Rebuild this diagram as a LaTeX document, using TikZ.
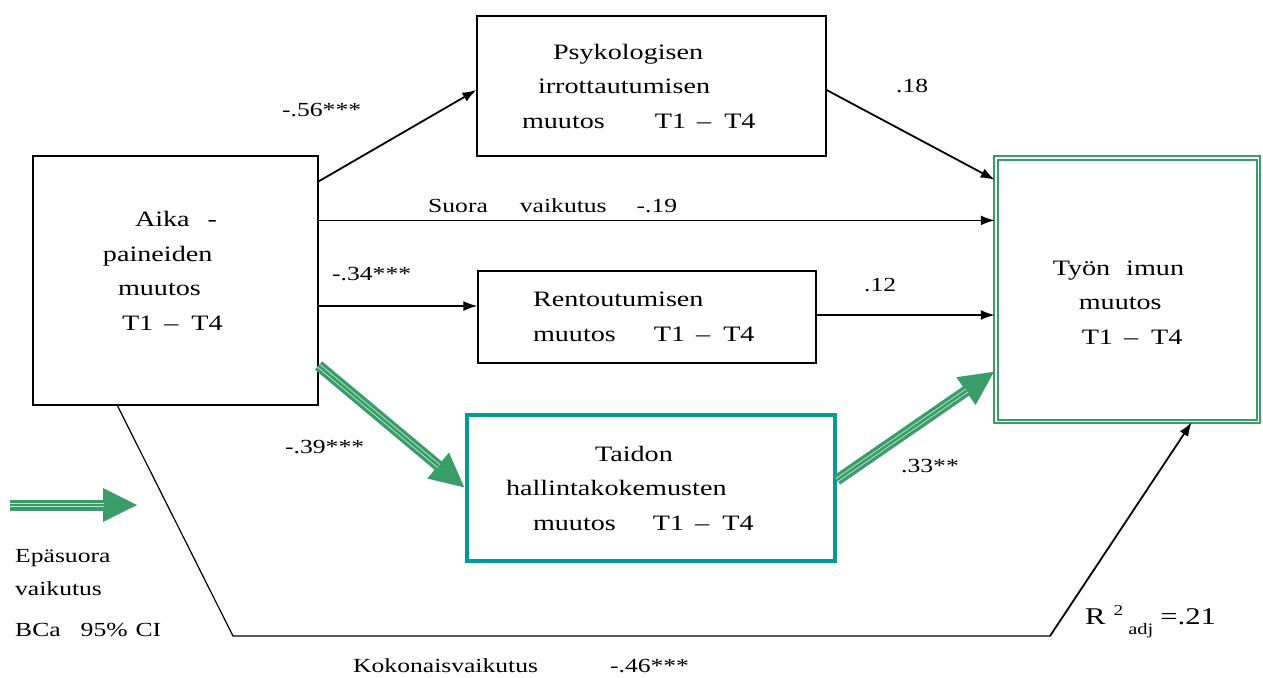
\documentclass[tikz,border=0pt]{standalone}
\usepackage{fontspec}
\setmainfont{Liberation Serif}[FakeStretch=1.28]
\usetikzlibrary{arrows.meta,calc}
\definecolor{pathgreen}{RGB}{56,157,104}
\definecolor{paleline}{RGB}{190,226,205}
\definecolor{boxteal}{RGB}{0,155,150}
\tikzset{
  box/.style={draw=black, line width=1.2pt, inner sep=0pt, align=left,
              font=\fontsize{22}{34.5}\selectfont},
  coef/.style={font=\fontsize{20}{24}\selectfont, inner sep=0pt, anchor=west},
  link/.style={line width=1.8pt, -{Latex[length=14pt,width=10pt]}},
}
% indent a line inside a box
\newcommand\ind[1]{\hspace*{#1pt}}
% "T1 - T4" with the spacing used in the boxes
\newcommand\timespan{T1\hspace{11pt}--\hspace{13pt}T4}
% invisible struts that move a box's text block down / up
\newcommand\tallfirst[1]{\rule{0pt}{#1pt}}
\newcommand\deeplast[1]{\rule[-#1pt]{0pt}{1pt}}
% thick indirect-path arrow: green shaft with two pale stripes and a large head
\newcommand\indirectarrow[2]{%
  \draw[pathgreen, line width=11pt, -{Triangle[length=35pt,width=31pt]}] #1 -- #2;
  \draw[paleline, line width=4.4pt, shorten >=34pt] #1 -- #2;
  \draw[pathgreen, line width=2.6pt, shorten >=34pt] #1 -- #2;
}
\begin{document}
\begin{tikzpicture}[x=1pt, y=-1pt]
\useasboundingbox (0,0) rectangle (1263,677);

% variables
\node[box, text width=285pt, minimum height=249pt] (aika) at (175.5,280.5)
  {\ind{102}Aika\hspace{18pt}-\\\ind{70}paineiden\\\ind{85}muutos\\\ind{89}\timespan\deeplast{19}};
\node[box, text width=349pt, minimum height=140pt] (psyk) at (651.5,86)
  {\ind{76}Psykologisen\\\ind{61}irrottautumisen\\\ind{45}muutos\hspace{50pt}\timespan};
\node[box, text width=338pt, minimum height=92pt] (rent) at (647,317)
  {\ind{55}Rentoutumisen\\\ind{55}muutos\hspace{38pt}\timespan};
\node[box, draw=boxteal, line width=4pt, text width=368pt, minimum height=146pt] (taito) at (651,488)
  {\ind{128}Taidon\\\ind{39}hallintakokemusten\\\ind{66}muutos\hspace{37pt}\timespan};
\node[box, draw=pathgreen, line width=2pt, double=white, double distance=1.5pt,
      text width=262.5pt, minimum height=263.5pt] (tyo) at (1127,289.5)
  {\tallfirst{40}\ind{57}Työn\hspace{16pt}imun\\\ind{83}muutos\\\ind{86}\timespan};

% direct paths
\coordinate (suora) at ([yshift=-65pt]aika.north east);
\coordinate (rin) at ([yshift=-25.5pt]aika.east);
\coordinate (rout) at ([yshift=2pt]rent.east);
\draw[link] ([yshift=-26pt]aika.north east) -- ([yshift=-4pt]psyk.west);
\draw[link] ([yshift=-4pt]psyk.east) -- ([yshift=-23pt]tyo.north west);
\draw[link] (suora) -- (suora -| tyo.west);
\draw[link] (rin) -- (rin -| rent.west);
\draw[link] (rout) -- (rout -| tyo.west);

% indirect paths
\indirectarrow{([yshift=40pt]aika.south east)}{(taito.west)}
\indirectarrow{([yshift=8pt]taito.east)}{([yshift=51pt]tyo.south west)}

% total effect
\coordinate (tk1) at (233,636);
\coordinate (tk2) at (1050,636);
\draw[line width=1.2pt] ([xshift=85pt]aika.south west) -- (tk1) -- (tk2);
\draw[link] (tk2) -- ([xshift=197pt]tyo.south west);

% coefficients
\node[coef] (c1) at (282,110) {-.56***};
\node[coef] (c2) at (896,86) {.18};
\node[coef] (c3) at (428,206) {Suora\hspace{32pt}vaikutus\hspace{30pt}-.19};
\node[coef] (c4) at (332,274) {-.34***};
\node[coef] (c5) at (864,285) {.12};
\node[coef] (c6) at (285,447) {-.39***};
\node[coef] (c7) at (901,466) {.33**};
\node[coef] (c8) at (353,666) {Kokonaisvaikutus\hspace{72pt}-.46***};
\node[coef, font=\fontsize{24}{28}\selectfont] (r2) at (1085,622)
  {R\hspace{8pt}\raisebox{9pt}{\fontsize{15}{15}\selectfont 2}\hspace{5pt}\raisebox{-10pt}{\fontsize{16}{16}\selectfont adj}\hspace{7pt}=.21};

% legend
\coordinate (leg1) at (10,505);
\coordinate (leg2) at (138,505);
\indirectarrow{(leg1)}{(leg2)}
\node[coef] (l1) at (15,558) {Epäsuora};
\node[coef] (l2) at (15,589) {vaikutus};
\node[coef] (l3) at (15,630) {BCa\hspace{20pt}95\%\hspace{8pt}CI};
\end{tikzpicture}
\end{document}
